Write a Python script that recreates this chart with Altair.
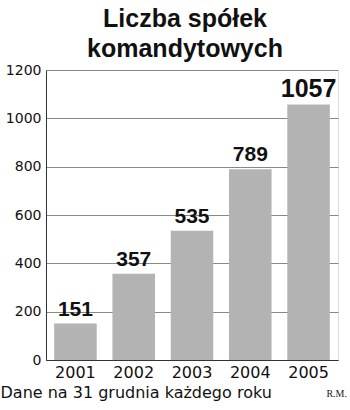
import altair as alt
import pandas as pd

years = ["2001", "2002", "2003", "2004", "2005"]
values = [151, 357, 535, 789, 1057]
y_ticks = [0, 200, 400, 600, 800, 1000, 1200]
title_lines = ["Liczba spółek", "komandytowych"]
footer = "Dane na 31 grudnia każdego roku"
credit = "R.M."

df = pd.DataFrame({"year": years, "value": values})

W, H = 292, 290

x = alt.X("year:N", title=footer,
          scale=alt.Scale(paddingInner=0.27, paddingOuter=0.14),
          axis=alt.Axis(labelAngle=0, labelFont="DejaVu Sans", labelFontSize=16,
                        labelColor="#111", labelPadding=4, ticks=False,
                        domainColor="#333", domainWidth=1,
                        titleFont="DejaVu Sans", titleFontSize=16, titleFontWeight="normal",
                        titleColor="#111", titleAnchor="start", titleAlign="left",
                        titleBaseline="alphabetic", titleX=-46, titleY=37))
y = alt.Y("value:Q", title=None,
          scale=alt.Scale(domain=[0, 1200], nice=False),
          axis=alt.Axis(values=y_ticks, format="d", labelFont="DejaVu Sans", labelFontSize=14,
                        labelColor="#111", labelPadding=5, ticks=False,
                        domainColor="#333", gridColor="#888", gridWidth=1,
                        gridOpacity=1))

bars = alt.Chart(df).mark_bar(color="#b3b3b3").encode(x=x, y=y)

labels = alt.Chart(df).mark_text(font="Liberation Sans", fontWeight="bold",
                                 baseline="alphabetic", dy=-8, color="#111").encode(
    x=alt.X("year:N"), y=alt.Y("value:Q"), text="value:Q",
    size=alt.condition("datum.value > 1000", alt.value(25), alt.value(21)))

credit_df = pd.DataFrame({"t": [credit]})
credit_mark = alt.Chart(credit_df).mark_text(font="Liberation Serif", fontSize=10,
                                             align="right", baseline="alphabetic",
                                             color="#222").encode(
    text="t:N", x=alt.value(W + 9), y=alt.value(H + 37))

chart = alt.layer(bars, labels, credit_mark).properties(
    width=W, height=H,
    title=alt.TitleParams(title_lines, font="Liberation Sans", fontSize=25,
                          fontWeight="bold", color="#111", lineHeight=30,
                          anchor="middle", dx=-7, offset=1),
    padding={"left": 46, "top": 70, "right": 12, "bottom": 50},
    autosize=alt.AutoSizeParams(type="none"),
).configure_view(stroke="#666", strokeWidth=1).configure(background="white")

chart.save("out.html", embed_options={"renderer": "svg", "actions": False})
